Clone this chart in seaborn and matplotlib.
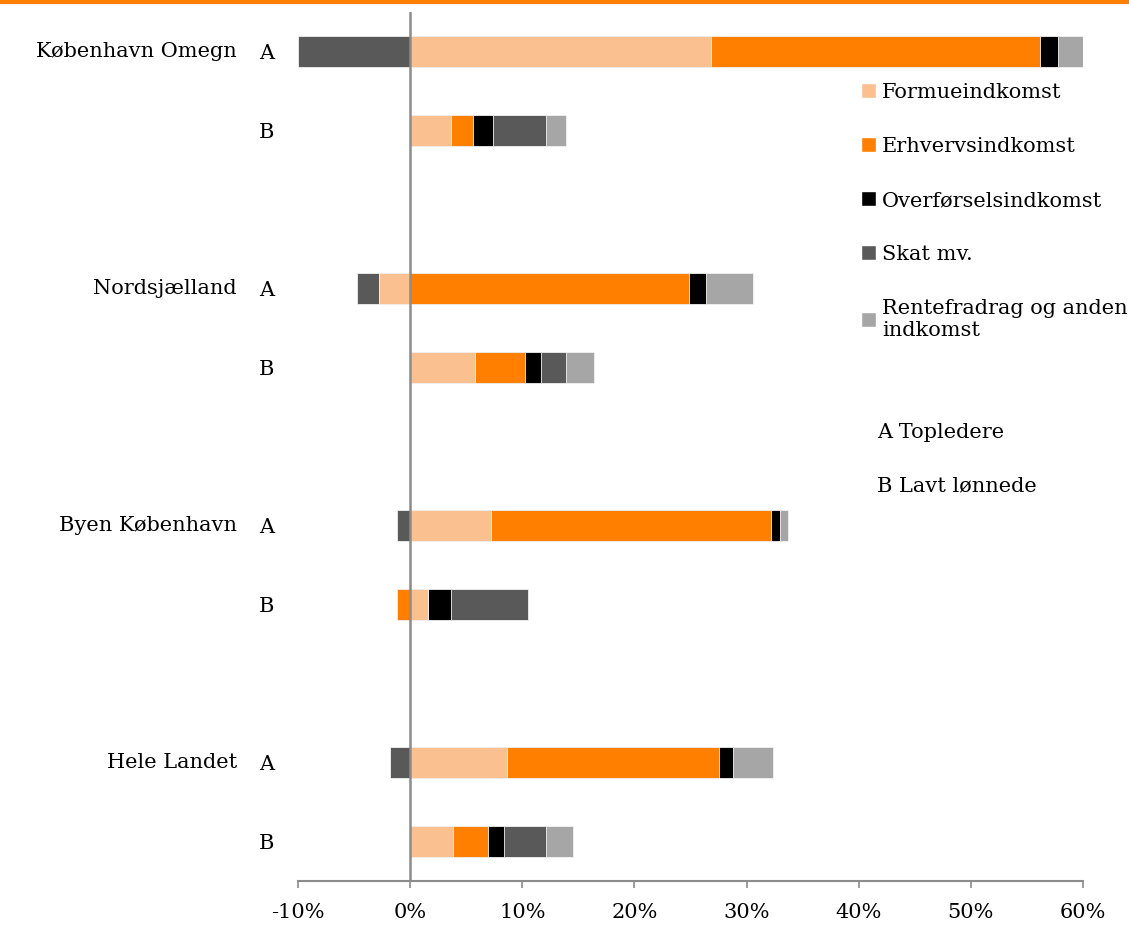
import numpy as np
import pandas as pd
import seaborn as sns
import matplotlib.pyplot as plt
from matplotlib.lines import Line2D
from matplotlib.patches import Patch

# data (percent), rows: region A / B
regions = ['København Omegn', 'Nordsjælland', 'Byen København', 'Hele Landet']
groups = ['A', 'B']
positions = [0, 1, 3, 4, 6, 7, 9, 10]

series_names = ['Formueindkomst', 'Erhvervsindkomst', 'Overførselsindkomst',
                'Skat mv.', 'Rentefradrag og anden\nindkomst']
formue = [26.8, 3.6, -2.8, 5.8, 7.2, 1.6, 8.6, 3.8]
erhverv = [29.4, 2.0, 24.9, 4.4, 25.0, -1.2, 18.9, 3.1]
overforsel = [1.6, 1.8, 1.5, 1.5, 0.8, 2.0, 1.3, 1.5]
skat = [-10.0, 4.7, -1.9, 2.2, -1.2, 6.9, -1.8, 3.7]
rente = [2.2, 1.8, 4.2, 2.5, 0.7, 0.0, 3.6, 2.4]
colors = ['#FAC090', '#FF8000', '#000000', '#595959', '#A6A6A6']

sns.set_style('white')
plt.rcParams['font.family'] = ['DejaVu Serif']
plt.rcParams['font.size'] = 15
plt.rcParams['text.color'] = 'black'
plt.rcParams['xtick.color'] = 'black'
plt.rcParams['ytick.color'] = 'black'

vals = np.array([formue, erhverv, overforsel, skat, rente])
pos_cum = np.cumsum(np.clip(vals, 0, None), axis=0)
neg_cum = np.cumsum(np.clip(vals, None, 0), axis=0)

fig = plt.figure(figsize=(11.29, 9.26), dpi=100)
ax = fig.add_axes([298 / 1129, 1 - 881 / 926, 785 / 1129, 869 / 926])

# stacked diverging bars: draw cumulative ends from last series to first
for k in range(len(series_names) - 1, -1, -1):
    for cum in (pos_cum[k], neg_cum[k]):
        df = pd.DataFrame({'pos': positions, 'end': cum})
        sns.barplot(data=df, x='end', y='pos', orient='h', native_scale=True,
                    color=colors[k], saturation=1, width=0.4, errorbar=None,
                    edgecolor='#f2f2f2', linewidth=0.6, ax=ax)

ax.axvline(0, color='#8c8c8c', lw=1.8, zorder=5)

ax.set_xlim(-10, 60)
ax.set_ylim(10.5, -0.5)
ax.set_xticks(range(-10, 61, 10))
ax.set_xticklabels([f'{t}%' for t in range(-10, 61, 10)])
ax.set_yticks(positions)
ax.set_yticklabels(groups * len(regions))
ax.set_xlabel('')
ax.set_ylabel('')
ax.tick_params(axis='y', length=0, pad=17)
ax.tick_params(axis='x', length=5, width=1.2, color='#8c8c8c', labelcolor='black',
               pad=11, direction='out', bottom=True)
for side in ['top', 'right', 'left']:
    ax.spines[side].set_visible(False)
ax.spines['bottom'].set_color('#8c8c8c')
ax.spines['bottom'].set_linewidth(1.5)

for i, name in enumerate(regions):
    ax.text((237 - 298) / 785, positions[2 * i], name, transform=ax.get_yaxis_transform(),
            ha='right', va='center')

handles = [Patch(facecolor=c) for c in colors]
fig.legend(handles, series_names, loc='upper left', bbox_to_anchor=(861 / 1129, 1 - 83 / 926),
           frameon=False, handlelength=0.7, handleheight=0.7, handletextpad=0.3,
           labelspacing=1.68, borderpad=0, borderaxespad=0)

fig.text(877 / 1129, 1 - 433 / 926, 'A Topledere', va='center')
fig.text(877 / 1129, 1 - 486 / 926, 'B Lavt lønnede', va='center')

fig.add_artist(Line2D([0, 1], [1 - 2 / 926, 1 - 2 / 926], color='#FF8000', lw=3))

fig.savefig('out.png', dpi=100)
